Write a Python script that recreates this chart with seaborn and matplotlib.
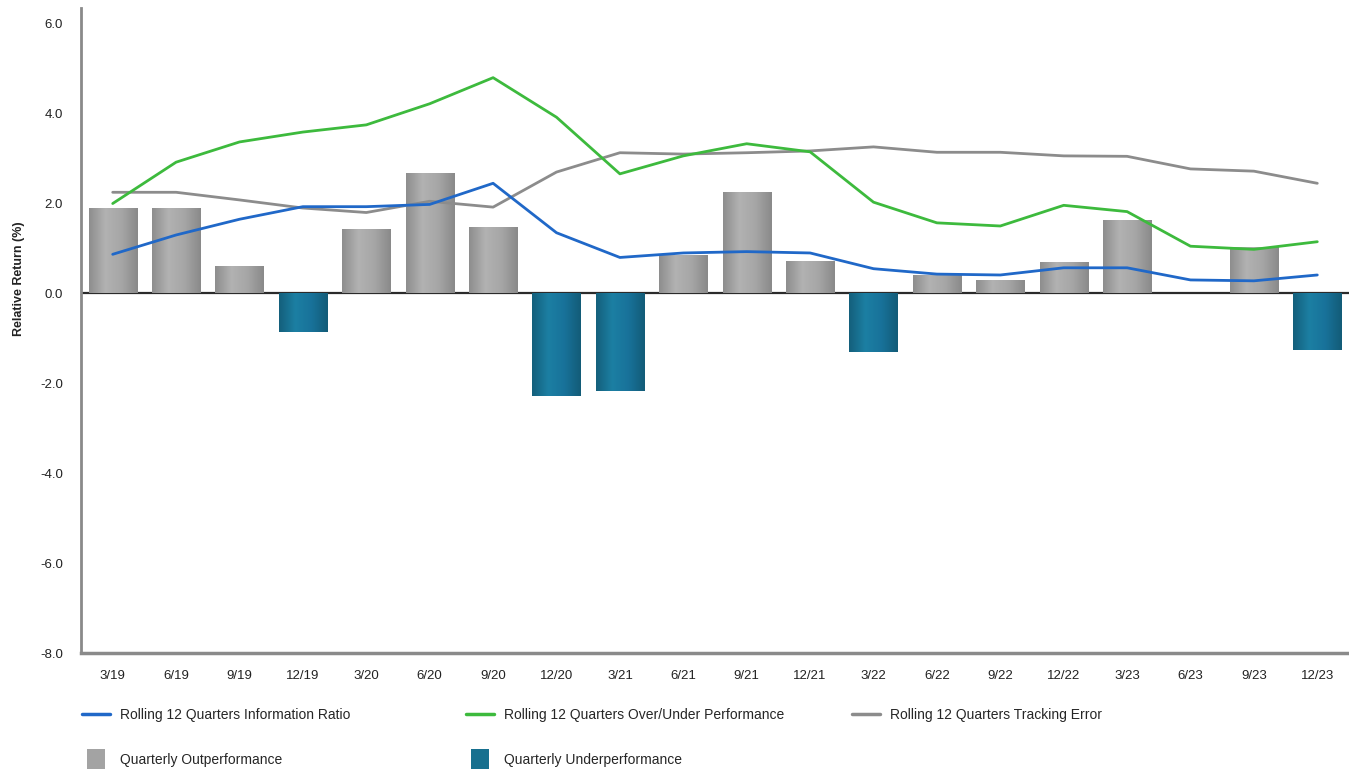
import numpy as np
import pandas as pd
import matplotlib
matplotlib.use("Agg")
import matplotlib.pyplot as plt
import seaborn as sns
from matplotlib.lines import Line2D
from matplotlib.colors import LinearSegmentedColormap

# ── Data ──────────────────────────────────────────────────────
quarters = ["3/19", "6/19", "9/19", "12/19", "3/20", "6/20", "9/20", "12/20",
            "3/21", "6/21", "9/21", "12/21", "3/22", "6/22", "9/22", "12/22",
            "3/23", "6/23", "9/23", "12/23"]
quarterly_rel = [1.90, 1.90, 0.60, -0.85, 1.43, 2.68, 1.47, -2.28,
                 -2.17, 0.85, 2.25, 0.72, -1.31, 0.42, 0.29, 0.69,
                 1.63, 0.00, 1.03, -1.25]
info_ratio = [0.87, 1.30, 1.65, 1.93, 1.93, 1.98, 2.45, 1.35,
              0.80, 0.90, 0.93, 0.90, 0.55, 0.43, 0.41, 0.57,
              0.57, 0.30, 0.28, 0.41]
over_under = [2.00, 2.92, 3.37, 3.59, 3.75, 4.22, 4.80, 3.92,
              2.66, 3.06, 3.33, 3.15, 2.03, 1.57, 1.50, 1.96,
              1.82, 1.05, 0.98, 1.15]
tracking_err = [2.25, 2.25, 2.08, 1.90, 1.80, 2.05, 1.92, 2.70,
                3.13, 3.10, 3.13, 3.17, 3.26, 3.14, 3.14, 3.06,
                3.05, 2.77, 2.72, 2.45]
y_ticks = [-8, -6, -4, -2, 0, 2, 4, 6]

C_OUT, C_UNDER = "#a3a3a3", "#17708f"
C_IR, C_OU, C_TE = "#2068c8", "#3dba3d", "#8c8c8c"
GRAD = {
    "out": LinearSegmentedColormap.from_list(
        "g", ["#8e8e8e", "#b2b2b2", "#a6a6a6", "#8a8a8a"]),
    "under": LinearSegmentedColormap.from_list(
        "t", ["#14607c", "#1c7fa3", "#18729a", "#135c78"]),
}

sns.set_style("white")
plt.rcParams["font.family"] = ["Liberation Sans", "DejaVu Sans"]

W, H = 1349, 769
fig = plt.figure(figsize=(W / 100, H / 100), dpi=100)
ax = fig.add_axes([81 / W, 1 - 653 / H, (W - 81) / W, (653 - 8) / H])

df = pd.DataFrame({"quarter": quarters, "value": quarterly_rel})
df["kind"] = np.where(df["value"] >= 0, "out", "under")
ax.axhline(0, color="#2b2b2b", lw=1.6, zorder=0)
sns.barplot(data=df, x="quarter", y="value", hue="kind", order=quarters,
            palette={"out": C_OUT, "under": C_UNDER}, dodge=False,
            width=0.76, saturation=1, legend=False, ax=ax, zorder=2,
            linewidth=0, edgecolor="none")

# shaded (cylinder-like) fill of each bar, as in the original
grad = np.linspace(0, 1, 64).reshape(1, -1)
for bar in ax.patches:
    h = bar.get_height()
    if h == 0 or np.isnan(h):
        continue
    x0, y0 = bar.get_x(), bar.get_y()
    kind = "out" if h > 0 else "under"
    im = ax.imshow(grad, cmap=GRAD[kind], aspect="auto", zorder=2.1,
                   extent=(x0, x0 + bar.get_width(), y0, y0 + h),
                   interpolation="bilinear")
    im.set_clip_path(bar)

xs = np.arange(len(quarters))
for vals, col in [(tracking_err, C_TE), (over_under, C_OU), (info_ratio, C_IR)]:
    sns.lineplot(x=xs, y=vals, color=col, lw=2.0, ax=ax, zorder=3)

ax.set_xlim(-0.5, len(quarters) - 0.5)
ax.set_ylim(-8, 6.35)
ax.set_yticks(y_ticks)
ax.set_yticklabels([f"{v:.1f}" for v in y_ticks])
ax.set_xlabel("")
ax.set_ylabel("Relative Return (%)", fontsize=9, fontweight="bold", color="#222222")
ax.yaxis.set_label_coords(-0.044, 0.58)
ax.tick_params(axis="both", labelsize=9.5, colors="#222222", length=4,
               width=0.8, direction="out")
ax.tick_params(axis="x", pad=8, color="#bbbbbb")
ax.tick_params(axis="y", color="#999999", pad=9)

for side in ["top", "right"]:
    ax.spines[side].set_visible(False)
ax.spines["left"].set_color("#8a8a8a")
ax.spines["left"].set_linewidth(2)
ax.spines["bottom"].set_color("#8a8a8a")
ax.spines["bottom"].set_linewidth(2.5)

# legend: three columns at fixed places below the plot
leg_kw = dict(loc="upper left", frameon=False, fontsize=10, borderpad=0,
              borderaxespad=0, handlelength=2.0, handletextpad=0.75,
              labelspacing=2.2)
tall_sq = [(-0.85, -1), (0.85, -1), (0.85, 1), (-0.85, 1), (-0.85, -1)]
sq = dict(marker=tall_sq, linestyle="none", markersize=15, markeredgewidth=0)
col1 = [Line2D([], [], color=C_IR, lw=2.5),
        Line2D([], [], color=C_OUT, **sq)]
col2 = [Line2D([], [], color=C_OU, lw=2.5),
        Line2D([], [], color=C_UNDER, **sq)]
col3 = [Line2D([], [], color=C_TE, lw=2.5)]
fig.legend(col1, ["Rolling 12 Quarters Information Ratio", "Quarterly Outperformance"],
           bbox_to_anchor=(82 / W, 1 - 708 / H), **leg_kw)
fig.legend(col2, ["Rolling 12 Quarters Over/Under Performance", "Quarterly Underperformance"],
           bbox_to_anchor=(466 / W, 1 - 708 / H), **leg_kw)
fig.legend(col3, ["Rolling 12 Quarters Tracking Error"],
           bbox_to_anchor=(852 / W, 1 - 708 / H), **leg_kw)

fig.savefig("out.png", dpi=100)
